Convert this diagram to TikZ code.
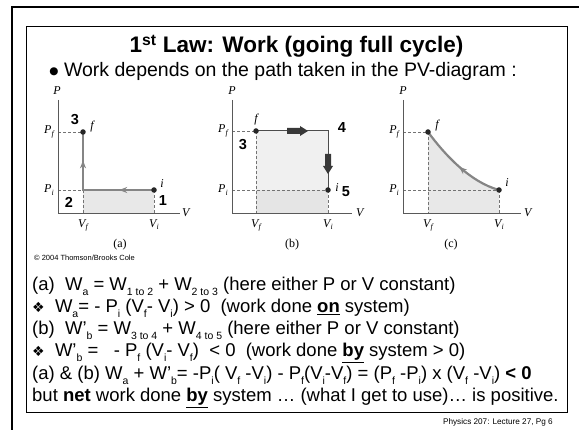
\documentclass[tikz,border=0pt]{standalone}
\usepackage{fontspec}
\setmainfont{Liberation Sans}
\newfontfamily\seriffam{Liberation Serif}
\newfontfamily\dejavu{DejaVu Sans}
\usetikzlibrary{arrows.meta,decorations.markings}
\newcommand\sbx[1]{\raisebox{-0.45ex}{\fontsize{10.5}{12}\selectfont #1}}
\newcommand\dsub[1]{\raisebox{-0.4ex}{\fontsize{8}{8}\selectfont\itshape #1}}
\newcommand\fleur{\raisebox{0.5pt}{\dejavu\fontsize{14}{14}\selectfont ❖}}
\newcommand\greytip{\arrow[black!48]{Stealth[length=8pt,width=6pt]}}
\begin{document}
\begin{tikzpicture}[x=1pt,y=-1pt,
  axisline/.style={draw=black!65,line width=0.8pt},
  dashln/.style={draw=black!55,line width=0.7pt,dash pattern=on 3pt off 2pt},
  shadearea/.style={fill=black!9},
  gpath/.style={draw=black!48,line width=2.2pt},
  dpath/.style={draw=black!70,line width=1pt},
  dot/.style={circle,fill=black!85,inner sep=0pt,minimum size=5.5pt},
  lab/.style={font=\seriffam\itshape\fontsize{12}{12}\selectfont,inner sep=1pt},
  caplab/.style={font=\seriffam\fontsize{12}{12}\selectfont,inner sep=1pt},
  num/.style={font=\bfseries\fontsize{14.5}{14.5}\selectfont,inner sep=1pt},
  body/.style={anchor=base west,inner sep=0pt,font=\fontsize{18.5}{22}\selectfont},
  blockarrow/.style={fill=black!78}
]
\path[use as bounding box] (0,0) rectangle (579,430);
% frames
\draw[line width=2.5pt] (12,430) -- (12,7) -- (579,7);
\draw[line width=1pt] (26,27) rectangle (567,413);
% title
\node[anchor=base,inner sep=0pt,font=\bfseries\fontsize{22.5}{26}\selectfont] (title) at (296.5,53) {1\textsuperscript{st} Law: Work (going full cycle)};
\node[anchor=base east,inner sep=0pt,font=\fontsize{19.5}{24}\selectfont] (bullet) at (517,77) {\raisebox{2.5pt}{\dejavu\fontsize{10.5}{11}\selectfont ●}\ Work depends on the path taken in the PV-diagram :};

% ---------- diagram (a)
\coordinate (aO) at (58,213);
\coordinate (af) at (83,132);
\coordinate (ai) at (154,190);
\coordinate (ac) at (83,190);
\fill[shadearea] (83,190) rectangle (154,213);
\draw[dashln] (58,132) -- (af);
\draw[dashln] (58,190) -- (ac);
\draw[dashln] (ac) -- (83,213);
\draw[dashln] (ai) -- (154,213);
\draw[axisline] (58,100) -- (aO) -- (180,213);
\draw[gpath,postaction={decorate},decoration={markings,
  mark=at position 0.27 with {\greytip},
  mark=at position 0.78 with {\greytip}}]
  (ai) -- (ac) -- (af);
\node[dot] (afd) at (af) {};
\node[dot] (aid) at (ai) {};
\node[lab] (aP) at (57,91) {P};
\node[lab,anchor=west] (aV) at (181,213) {V};
\node[lab,anchor=east] (aPf) at (55,132) {P\dsub{f}};
\node[lab,anchor=east] (aPi) at (55,190) {P\dsub{i}};
\node[lab,anchor=north] (aVf) at (83,218) {V\dsub{f}};
\node[lab,anchor=north] (aVi) at (154,218) {V\dsub{i}};
\node[lab] (aflab) at (92,127) {f};
\node[lab] (ailab) at (162,184) {i};
\node[caplab] (acap) at (120,245) {(a)};
\node[anchor=west,inner sep=0pt,font=\fontsize{7.5}{8}\selectfont] (copy) at (34,258) {© 2004 Thomson/Brooks Cole};
\node[num] (n3) at (75,120) {3};
\node[num] (n2) at (69,202) {2};
\node[num] (n1) at (163,201) {1};

% ---------- diagram (b)
\coordinate (bO) at (232,213);
\coordinate (bf) at (256,131);
\coordinate (bi) at (328,190);
\coordinate (bc) at (328,131);
\fill[black!6] (256,131) rectangle (328,190);
\fill[black!10] (256,190) rectangle (328,213);
\draw[dashln] (232,131) -- (bf);
\draw[dashln] (232,190) -- (bi);
\draw[dashln] (bf) -- (256,213);
\draw[dashln] (bi) -- (328,213);
\draw[axisline] (232,100) -- (bO) -- (352,213);
\draw[dpath] (bf) -- (bc) -- (bi);
\fill[blockarrow] (287,128) -- (300,128) -- (300,126) -- (308,131) -- (300,136) -- (300,134) -- (287,134) -- cycle;
\fill[blockarrow] (325,154) -- (331,154) -- (331,166) -- (333,166) -- (328,174) -- (323,166) -- (325,166) -- cycle;
\node[dot] (bfd) at (bf) {};
\node[dot] (bid) at (bi) {};
\node[lab] (bP) at (232,91) {P};
\node[lab,anchor=west] (bV) at (355,213) {V};
\node[lab,anchor=east] (bPf) at (229,131) {P\dsub{f}};
\node[lab,anchor=east] (bPi) at (229,190) {P\dsub{i}};
\node[lab,anchor=north] (bVf) at (256,218) {V\dsub{f}};
\node[lab,anchor=north] (bVi) at (328,218) {V\dsub{i}};
\node[lab] (bflab) at (256,120) {f};
\node[lab] (bilab) at (337,188) {i};
\node[caplab] (bcap) at (292,245) {(b)};
\node[num] (n3b) at (243,145) {3};
\node[num] (n4) at (342,128) {4};
\node[num] (n5) at (346,192) {5};

% ---------- diagram (c)
\coordinate (cO) at (403,213);
\coordinate (cf) at (428,132);
\coordinate (ci) at (499,190);
\fill[shadearea] (428,213) -- (cf) .. controls (445,155) and (470,182) .. (ci) -- (499,213) -- cycle;
\draw[dashln] (403,132) -- (cf);
\draw[dashln] (403,190) -- (ci);
\draw[dashln] (cf) -- (428,213);
\draw[dashln] (ci) -- (499,213);
\draw[axisline] (403,100) -- (cO) -- (521,213);
\draw[gpath,postaction={decorate},decoration={markings,
  mark=at position 0.5 with {\greytip}}]
  (ci) .. controls (470,182) and (445,155) .. (cf);
\node[dot] (cfd) at (cf) {};
\node[dot] (cid) at (ci) {};
\node[lab] (cP) at (403,91) {P};
\node[lab,anchor=west] (cV) at (523,213) {V};
\node[lab,anchor=east] (cPf) at (400,132) {P\dsub{f}};
\node[lab,anchor=east] (cPi) at (400,190) {P\dsub{i}};
\node[lab,anchor=north] (cVf) at (428,218) {V\dsub{f}};
\node[lab,anchor=north] (cVi) at (499,218) {V\dsub{i}};
\node[lab] (cflab) at (437,126) {f};
\node[lab] (cilab) at (507,183) {i};
\node[caplab] (ccap) at (451,245) {(c)};

% ---------- text lines
\node[body] (l1) at (32,291) {(a)\ \ W\sbx{a} = W\sbx{1 to 2} + W\sbx{2 to 3} (here either P or V constant)};
\node[body] (l2) at (32,313) {\fleur\ \ W\sbx{a}= - P\sbx{i} (V\sbx{f}- V\sbx{i}) > 0\ \ (work done \underline{\textbf{on}} system)};
\node[body] (l3) at (32,335) {(b)\ \ W’\sbx{b} = W\sbx{3 to 4} + W\sbx{4 to 5} (here either P or V constant)};
\node[body] (l4) at (32,357) {\fleur\ \ W’\sbx{b} =\ \ \ - P\sbx{f} (V\sbx{i}- V\sbx{f})\ \ < 0\ \ (work done \underline{\textbf{by}} system > 0)};
\node[body] (l5) at (32,380) {(a) \& (b) W\sbx{a} + W’\sbx{b}= -P\sbx{i}( V\sbx{f} -V\sbx{i}) - P\sbx{f}(V\sbx{i}-V\sbx{f}) = (P\sbx{f} -P\sbx{i}) x (V\sbx{f} -V\sbx{i}) \textbf{< 0}};
\node[body] (l6) at (32,402) {but \textbf{net} work done \underline{\textbf{by}} system … (what I get to use)… is positive.};

% footer
\node[anchor=base east,inner sep=0pt,font=\fontsize{8.2}{9}\selectfont] (foot) at (553,425) {Physics 207: Lecture 27, Pg 6};
\end{tikzpicture}
\end{document}
